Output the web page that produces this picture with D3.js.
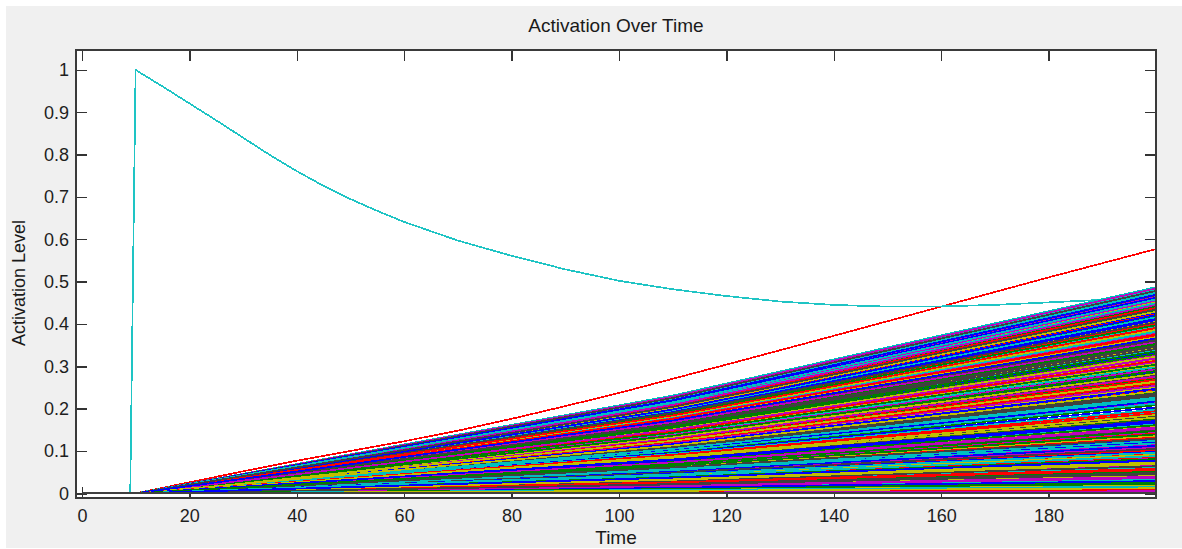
<!DOCTYPE html>
<html>
<head>
<meta charset="utf-8">
<script src="https://cdn.jsdelivr.net/npm/d3@7"></script>
<style>
  html, body { margin: 0; padding: 0; background: #fff; }
  svg { display: block; }
</style>
</head>
<body>
<svg id="chart" width="1182" height="549"></svg>
<script>
// tick labels
var xTicks = [0, 20, 40, 60, 80, 100, 120, 140, 160, 180];
var yTicks = [0, 0.1, 0.2, 0.3, 0.4, 0.5, 0.6, 0.7, 0.8, 0.9, 1];

// the decaying unit (cyan)
var cyanTimes  = [0, 9, 10, 15, 20, 25, 30, 35, 40, 45, 50, 55, 60, 70, 80, 90, 100, 110, 120, 130, 140, 150, 160, 170, 180, 190, 200];
var cyanLevels = [0, 0, 1.0, 0.961, 0.921, 0.881, 0.84, 0.799, 0.761, 0.726, 0.695, 0.667, 0.641, 0.597, 0.561, 0.529, 0.502, 0.482, 0.466, 0.453, 0.445, 0.441, 0.4415, 0.445, 0.451, 0.457, 0.464];

// the fastest growing unit (red)
var redTimes  = [0, 10, 20, 30, 40, 50, 60, 70, 80, 90, 100, 120, 140, 160, 180, 200];
var redLevels = [0, 0, 0.026, 0.052, 0.077, 0.1, 0.123, 0.148, 0.176, 0.206, 0.237, 0.304, 0.372, 0.441, 0.51, 0.577];

// all the other units: flat until t=10, then growing; level read at t=110 and t=200
var fanTimes = [0, 10, 110, 200];
var fanAt200 = [
  0.487, 0.31, 0.452, 0.228, 0.396, 0.271, 0.443, 0.338, 0.214, 0.472, 0.359, 0.287, 0.418, 0.246, 0.381, 0.465,
  0.302, 0.233, 0.427, 0.351, 0.268, 0.481, 0.319, 0.405, 0.257, 0.437, 0.296, 0.372, 0.221, 0.458, 0.344, 0.279,
  0.412, 0.239, 0.389, 0.476, 0.327, 0.262, 0.447, 0.365, 0.208, 0.423, 0.298, 0.377, 0.251, 0.468, 0.333, 0.284,
  0.401, 0.226, 0.455, 0.316, 0.362, 0.242, 0.432, 0.274, 0.393, 0.484, 0.306, 0.348, 0.217, 0.441, 0.267, 0.384,
  0.461, 0.323, 0.236, 0.409, 0.355, 0.291, 0.473, 0.254, 0.429, 0.341, 0.203, 0.397, 0.313, 0.449, 0.276, 0.369,
  0.231, 0.462, 0.335, 0.259, 0.416, 0.293, 0.386, 0.478, 0.247, 0.329, 0.438, 0.212, 0.357, 0.282, 0.404, 0.469,
  0.304, 0.375, 0.224, 0.445, 0.264, 0.346, 0.421, 0.289, 0.391, 0.458, 0.318, 0.241, 0.434, 0.366,
  0.187, 0.132, 0.164, 0.108, 0.195, 0.149, 0.121, 0.176, 0.141, 0.198, 0.115, 0.158, 0.183, 0.127, 0.169, 0.102,
  0.191, 0.145, 0.136, 0.173, 0.112, 0.161, 0.189, 0.124, 0.153, 0.179, 0.105, 0.167, 0.139, 0.194, 0.118, 0.156,
  0.185, 0.129, 0.171, 0.147,
  0.094, 0.061, 0.082, 0.043, 0.071, 0.098, 0.052, 0.086, 0.033, 0.067, 0.091, 0.048, 0.076, 0.026, 0.058, 0.088,
  0.039, 0.073, 0.064, 0.029, 0.081, 0.055, 0.096, 0.036, 0.069, 0.045, 0.078, 0.022,
  0.015, 0.004, 0.011, 0.018, 0.007, 0.002, 0.013, 0.009, 0.016, 0.005, 0.012, 0.001
];
var fanAt110 = [
  0.231, 0.147, 0.214, 0.109, 0.186, 0.128, 0.210, 0.158, 0.101, 0.222, 0.170, 0.134, 0.199, 0.115, 0.180, 0.219,
  0.143, 0.110, 0.200, 0.166, 0.125, 0.226, 0.151, 0.190, 0.122, 0.206, 0.139, 0.176, 0.104, 0.216, 0.162, 0.132,
  0.193, 0.113, 0.183, 0.225, 0.153, 0.124, 0.211, 0.171, 0.098, 0.198, 0.141, 0.177, 0.118, 0.221, 0.157, 0.133,
  0.189, 0.106, 0.213, 0.149, 0.171, 0.114, 0.203, 0.129, 0.185, 0.228, 0.144, 0.164, 0.102, 0.207, 0.125, 0.181,
  0.217, 0.152, 0.111, 0.192, 0.167, 0.137, 0.222, 0.120, 0.202, 0.160, 0.095, 0.187, 0.147, 0.211, 0.130, 0.173,
  0.108, 0.217, 0.158, 0.122, 0.196, 0.138, 0.182, 0.225, 0.116, 0.155, 0.206, 0.100, 0.168, 0.133, 0.190, 0.220,
  0.143, 0.176, 0.105, 0.209, 0.124, 0.163, 0.198, 0.136, 0.184, 0.215, 0.150, 0.113, 0.204, 0.172,
  0.088, 0.062, 0.077, 0.051, 0.092, 0.070, 0.057, 0.083, 0.066, 0.093, 0.054, 0.074, 0.086, 0.060, 0.079, 0.048,
  0.090, 0.068, 0.064, 0.081, 0.053, 0.076, 0.089, 0.058, 0.072, 0.084, 0.049, 0.078, 0.065, 0.091, 0.055, 0.073,
  0.087, 0.061, 0.080, 0.069,
  0.044, 0.029, 0.039, 0.020, 0.033, 0.046, 0.024, 0.040, 0.016, 0.031, 0.043, 0.023, 0.036, 0.012, 0.027, 0.041,
  0.018, 0.034, 0.030, 0.014, 0.038, 0.026, 0.045, 0.017, 0.032, 0.021, 0.037, 0.010,
  0.007, 0.002, 0.005, 0.008, 0.003, 0.001, 0.006, 0.004, 0.008, 0.002, 0.006, 0.000
];

// matlab's old default colour order
var colorOrder = ['#0000ff', '#008000', '#ff0000', '#00bfbf', '#bf00bf', '#bfbf00', '#404040'];

var W = 1182, H = 549;
var svg = d3.select('#chart')
  .attr('font-family', '"Liberation Sans", Arial, sans-serif');

// figure background
svg.append('rect').attr('x', 0).attr('y', 0).attr('width', W).attr('height', H).attr('fill', '#ffffff');
svg.append('rect').attr('x', 6).attr('y', 6).attr('width', W - 6).attr('height', H - 7).attr('fill', '#f0f0f0');

var axLeft = 76, axRight = 1156, axTop = 50, axBottom = 498;
var x = d3.scaleLinear().domain([-1.1, 200]).range([axLeft, axRight]);
var y = d3.scaleLinear().domain([-0.011, 1.047]).range([axBottom, axTop]);

svg.append('rect')
  .attr('x', axLeft).attr('y', axTop)
  .attr('width', axRight - axLeft).attr('height', axBottom - axTop)
  .attr('fill', '#ffffff');

// ticks sit under the data, like matlab's default layer
function styleAxis(g) {
  g.select('.domain').remove();
  g.attr('font-family', null).attr('font-size', 18).attr('color', '#1e1e1e');
  g.selectAll('.tick line').attr('stroke', '#333').attr('stroke-width', 1.4).attr('shape-rendering', 'crispEdges');
}

svg.append('g')
  .attr('transform', `translate(0,${axBottom})`)
  .call(d3.axisBottom(x).tickValues(xTicks).tickSizeInner(-11).tickSizeOuter(0).tickPadding(11).tickFormat(d => d))
  .call(styleAxis);

svg.append('g')
  .attr('transform', `translate(0,${axTop})`)
  .call(d3.axisTop(x).tickValues(xTicks).tickSizeInner(-11).tickSizeOuter(0).tickFormat(''))
  .call(styleAxis);

svg.append('g')
  .attr('transform', `translate(${axLeft},0)`)
  .call(d3.axisLeft(y).tickValues(yTicks).tickSizeInner(-11).tickSizeOuter(0).tickPadding(7).tickFormat(d => String(d)))
  .call(styleAxis);

svg.append('g')
  .attr('transform', `translate(${axRight},0)`)
  .call(d3.axisRight(y).tickValues(yTicks).tickSizeInner(-11).tickSizeOuter(0).tickFormat(''))
  .call(styleAxis);

var line = d3.line().x(d => x(d[0])).y(d => y(d[1]));

var plot = svg.append('g');

plot.append('path')
  .datum(d3.zip(redTimes, redLevels))
  .attr('fill', 'none').attr('stroke', colorOrder[2]).attr('stroke-width', 1.7)
  .attr('shape-rendering', 'crispEdges')
  .attr('d', line);

plot.append('path')
  .datum(d3.zip(cyanTimes, cyanLevels))
  .attr('fill', 'none').attr('stroke', '#1ec4c4').attr('stroke-width', 1.7)
  .attr('shape-rendering', 'crispEdges')
  .attr('d', line);

var n = fanAt200.length;
var fan = fanAt200.map((v, i) => [[fanTimes[0], 0], [fanTimes[1], 0], [fanTimes[2], fanAt110[i]], [fanTimes[3], v]]);

plot.selectAll('path.fan')
  .data(fan)
  .enter().append('path')
  .attr('class', 'fan')
  .attr('fill', 'none')
  // cycle the colours so the last one drawn (the one left on the zero line) is dark grey
  .attr('stroke', (d, i) => colorOrder[(((i - n + 1) % 7) + 13) % 7])
  .attr('stroke-width', 1.7)
  .attr('shape-rendering', 'crispEdges')
  .attr('d', line);

// axes box on top
svg.append('rect')
  .attr('x', axLeft).attr('y', axTop)
  .attr('width', axRight - axLeft).attr('height', axBottom - axTop)
  .attr('fill', 'none').attr('stroke', '#3a3a3a').attr('stroke-width', 2)
  .attr('shape-rendering', 'crispEdges');

svg.append('text')
  .attr('x', (axLeft + axRight) / 2).attr('y', 32)
  .attr('text-anchor', 'middle').attr('font-size', 19).attr('fill', '#1a1a1a')
  .text('Activation Over Time');

svg.append('text')
  .attr('x', (axLeft + axRight) / 2).attr('y', 544)
  .attr('text-anchor', 'middle').attr('font-size', 19).attr('fill', '#1a1a1a')
  .text('Time');

svg.append('text')
  .attr('transform', 'translate(25,283) rotate(-90)')
  .attr('text-anchor', 'middle').attr('font-size', 18).attr('fill', '#1a1a1a')
  .text('Activation Level');
</script>
</body>
</html>
